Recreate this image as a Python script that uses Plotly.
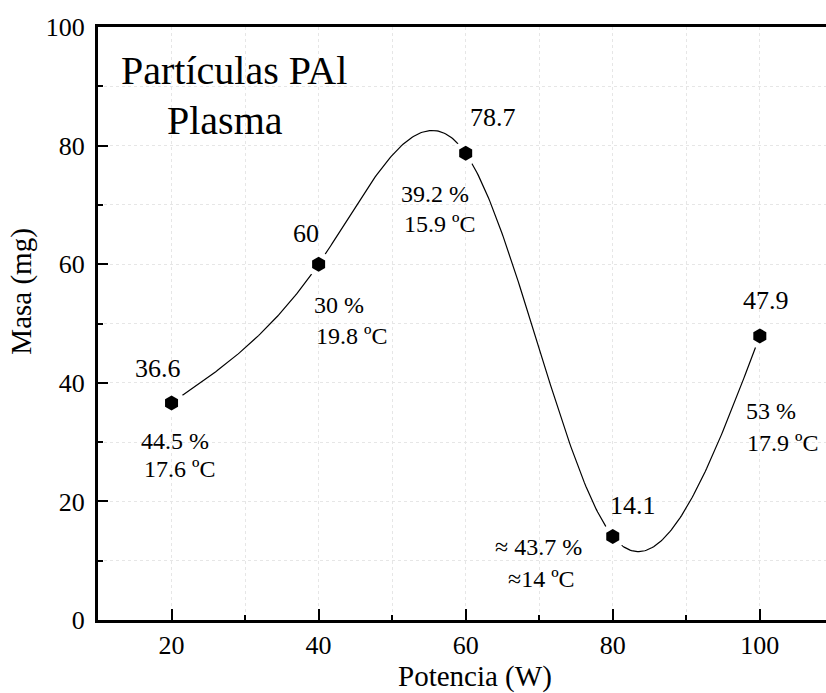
import numpy as np
import plotly.graph_objects as go

# Mass of PAl particles versus plasma power
potencia = [20, 40, 60, 80, 100]
masa = [36.6, 60, 78.7, 14.1, 47.9]
masa_labels = ["36.6", "60", "78.7", "14.1", "47.9"]
humedad = ["44.5 %", "30 %", "39.2 %", "≈ 43.7 %", "53 %"]
temperatura = ["17.6 ºC", "19.8 ºC", "15.9 ºC", "≈14 ºC", "17.9 ºC"]

# label offsets (x units, y units) relative to each point
val_dx = [-1.86, -1.77, 3.77, 2.76, 0.82]
val_dy = [5.85, 5.21, 6.12, 5.16, 5.90]
hum_dx = [0.52, 2.72, -4.11, -10.07, 1.50]
hum_dy = [-6.41, -6.88, -6.83, -1.79, -12.70]
tmp_dx = [1.05, 4.54, -3.58, -9.71, 3.13]
tmp_dy = [-11.13, -12.10, -11.92, -7.18, -18.09]

FONT = "Liberation Serif"
GRID = "#e6e6e6"


def natural_spline(xs, ys, n=400):
    """Natural cubic spline through the data points, for the connecting curve."""
    xs = np.asarray(xs, float)
    ys = np.asarray(ys, float)
    k = len(xs)
    h = np.diff(xs)
    A = np.zeros((k, k))
    r = np.zeros(k)
    A[0, 0] = A[-1, -1] = 1.0
    for i in range(1, k - 1):
        A[i, i - 1] = h[i - 1]
        A[i, i] = 2 * (h[i - 1] + h[i])
        A[i, i + 1] = h[i]
        r[i] = 6 * ((ys[i + 1] - ys[i]) / h[i] - (ys[i] - ys[i - 1]) / h[i - 1])
    M = np.linalg.solve(A, r)
    xx = np.linspace(xs[0], xs[-1], n)
    seg = np.clip(np.searchsorted(xs, xx, side="right") - 1, 0, k - 2)
    x0, x1 = xs[seg], xs[seg + 1]
    hh = x1 - x0
    a = (x1 - xx) / hh
    b = (xx - x0) / hh
    yy = (a * ys[seg] + b * ys[seg + 1]
          + ((a ** 3 - a) * M[seg] + (b ** 3 - b) * M[seg + 1]) * hh ** 2 / 6)
    return xx, yy


cx, cy = natural_spline(potencia, masa)

fig = go.Figure()
fig.add_trace(go.Scatter(x=cx, y=cy, mode="lines",
                         line=dict(color="black", width=1.2),
                         showlegend=False, hoverinfo="skip"))
# white halo leaves a small gap between curve and symbol
fig.add_trace(go.Scatter(x=potencia, y=masa, mode="markers",
                         marker=dict(symbol="hexagon", size=28, color="white",
                                     line=dict(width=0)),
                         showlegend=False, hoverinfo="skip"))
fig.add_trace(go.Scatter(x=potencia, y=masa, mode="markers",
                         marker=dict(symbol="hexagon", size=15, color="black",
                                     line=dict(width=0)),
                         showlegend=False))

annotations = []
for i in range(len(potencia)):
    annotations.append(dict(x=potencia[i] + val_dx[i], y=masa[i] + val_dy[i],
                            text=masa_labels[i], showarrow=False,
                            font=dict(size=26, family=FONT, color="black")))
    annotations.append(dict(x=potencia[i] + hum_dx[i], y=masa[i] + hum_dy[i],
                            text=humedad[i], showarrow=False,
                            font=dict(size=24, family=FONT, color="black")))
    annotations.append(dict(x=potencia[i] + tmp_dx[i], y=masa[i] + tmp_dy[i],
                            text=temperatura[i], showarrow=False,
                            font=dict(size=24, family=FONT, color="black")))

# panel title
annotations.append(dict(x=28.5, y=92.6, text="Partículas PAl", showarrow=False,
                        font=dict(size=40, family=FONT, color="black")))
annotations.append(dict(x=27.3, y=84.3, text="Plasma", showarrow=False,
                        font=dict(size=40, family=FONT, color="black")))

# axis titles
annotations.append(dict(x=0.5185, y=-0.096, xref="paper", yref="paper",
                        xanchor="center", yanchor="middle",
                        text="Potencia (W)", showarrow=False,
                        font=dict(size=29, family=FONT, color="black")))
annotations.append(dict(x=-0.105, y=0.553, xref="paper", yref="paper",
                        xanchor="center", yanchor="middle",
                        text="Masa (mg)", textangle=-90, showarrow=False,
                        font=dict(size=29, family=FONT, color="black")))

fig.update_layout(
    width=826, height=693,
    margin=dict(l=98, r=0, t=27, b=73),
    paper_bgcolor="white", plot_bgcolor="white",
    annotations=annotations,
    xaxis=dict(
        range=[10, 109], tickvals=[20, 40, 60, 80, 100],
        ticks="inside", ticklen=11, tickwidth=2, tickcolor="black",
        showline=True, linewidth=3, linecolor="black", mirror=True,
        tickfont=dict(size=26, family=FONT, color="black"),
        ticklabelstandoff=0,
        showgrid=True, gridcolor=GRID, griddash="dot", gridwidth=1, zeroline=False,
        minor=dict(tickvals=[30, 50, 70, 90], ticks="inside", ticklen=5,
                   tickwidth=2, tickcolor="black", showgrid=True,
                   gridcolor=GRID, griddash="dot"),
    ),
    yaxis=dict(
        range=[0, 100], tickvals=[0, 20, 40, 60, 80, 100],
        ticks="inside", ticklen=10, tickwidth=2, tickcolor="black",
        showline=True, linewidth=3, linecolor="black",
        tickfont=dict(size=26, family=FONT, color="black"),
        ticklabelstandoff=5,
        showgrid=True, gridcolor=GRID, griddash="dot", gridwidth=1, zeroline=False,
        minor=dict(tickvals=[10, 30, 50, 70, 90], ticks="inside", ticklen=5,
                   tickwidth=2, tickcolor="black", showgrid=True,
                   gridcolor=GRID, griddash="dot"),
    ),
)

fig.write_html("out.html")
